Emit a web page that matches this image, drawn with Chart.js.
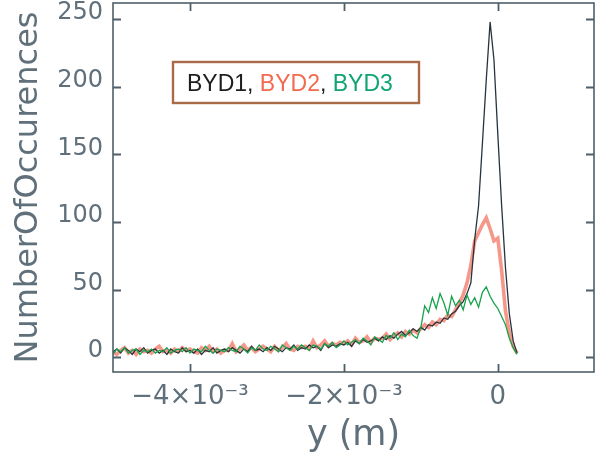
<!DOCTYPE html>
<html>
<head>
<meta charset="utf-8">
<script src="https://cdn.jsdelivr.net/npm/chart.js@4.4.1/dist/chart.umd.min.js"></script>
<style>
  html, body { margin: 0; padding: 0; background: #ffffff; }
  #wrap { width: 603px; height: 459px; }
</style>
</head>
<body>
<div id="wrap"><canvas id="c" width="603" height="459"></canvas></div>
<script>
// ---- data (x in millimetres, converted to metres for the axis) ----
const yPositionMm = [
  -5.00,-4.95,-4.90,-4.85,-4.80,-4.75,-4.70,-4.65,-4.60,-4.55,
  -4.50,-4.45,-4.40,-4.35,-4.30,-4.25,-4.20,-4.15,-4.10,-4.05,
  -4.00,-3.95,-3.90,-3.85,-3.80,-3.75,-3.70,-3.65,-3.60,-3.55,
  -3.50,-3.45,-3.40,-3.35,-3.30,-3.25,-3.20,-3.15,-3.10,-3.05,
  -3.00,-2.95,-2.90,-2.85,-2.80,-2.75,-2.70,-2.65,-2.60,-2.55,
  -2.50,-2.45,-2.40,-2.35,-2.30,-2.25,-2.20,-2.15,-2.10,-2.05,
  -2.00,-1.95,-1.90,-1.85,-1.80,-1.75,-1.70,-1.65,-1.60,-1.55,
  -1.50,-1.45,-1.40,-1.35,-1.30,-1.25,-1.20,-1.15,-1.10,-1.05,
  -1.00,-0.95,-0.90,-0.85,-0.80,-0.75,-0.70,-0.65,-0.60,-0.55,
  -0.50,-0.45,-0.40,-0.35,-0.30,-0.25,-0.20,-0.15,-0.10,-0.05,
   0.00, 0.05, 0.10, 0.15, 0.20, 0.25
];
const byd1 = [
  4,6,3,7,5,2,6,4,7,3,
  5,6,3,5,2,6,4,3,7,4,
  5,3,6,2,5,4,7,3,5,6,
  4,7,5,3,6,4,8,5,6,4,
  7,5,8,6,4,7,6,9,5,7,
  6,9,7,8,5,10,7,9,8,10,
  9,11,8,12,10,13,11,12,14,12,
  15,13,16,14,17,19,16,18,21,19,
  22,20,24,23,26,25,29,28,32,34,
  38,41,47,55,87,112,158,205,248,220,
  165,112,66,32,12,3
];
const byd2 = [
  4,2,5,7,3,5,2,6,4,5,
  3,6,8,4,5,3,6,4,7,5,
  6,4,3,7,5,8,4,6,3,5,
  5,10,4,6,9,5,7,4,6,8,
  6,4,8,5,7,10,6,5,8,7,
  8,6,12,7,9,12,8,10,9,11,
  10,12,9,14,11,12,15,11,14,13,
  14,17,13,16,18,15,19,17,20,18,
  21,24,22,26,24,28,27,31,30,35,
  40,46,55,68,86,92,98,103,95,86,
  88,64,34,18,8,3
];
const byd3 = [
  2,6,4,7,3,5,6,2,5,4,
  6,3,5,4,7,3,5,6,4,7,
  3,6,5,4,8,5,3,6,5,4,
  7,5,4,8,6,3,7,5,9,6,
  5,8,6,4,9,7,5,8,6,9,
  7,5,9,8,6,10,8,11,7,9,
  12,9,11,13,10,14,12,9,15,13,
  11,16,14,18,13,17,15,20,16,14,
  22,38,33,44,36,47,40,31,45,38,
  42,35,46,39,44,37,48,52,45,40,
  36,30,24,14,7,2
];
const seriesNames = ['BYD1', 'BYD2', 'BYD3'];
const xTickValues = [-0.004, -0.002, 0];
const xTickLabels = ['\u22124\u00d710\u207b\u00b3', '\u22122\u00d710\u207b\u00b3', '0'];
const yTickValues = [0, 50, 100, 150, 200, 250];
const yTickLabels = ['0', '50', '100', '150', '200', '250'];

// ---- styling ----
const AXIS = '#4f5f6a';
const TEXT = '#60707b';
const lineColors = ['#27333d', 'rgba(242,112,92,0.72)', '#18a24c'];
const legendColors = ['#1e1e1e', '#f26a50', '#10a474'];
const lineWidths = [1.3, 3.6, 1.3];
const drawOrder = [2, 3, 1];

function pts(arr) { return yPositionMm.map((x, i) => ({ x: x * 1e-3, y: arr[i] })); }
const series = [byd1, byd2, byd3];

const datasets = series.map((arr, i) => ({
  label: seriesNames[i],
  data: pts(arr),
  borderColor: lineColors[i],
  legendColor: legendColors[i],
  borderWidth: lineWidths[i],
  pointRadius: 0,
  tension: 0,
  fill: false,
  order: drawOrder[i]
}));

const framePlugin = {
  id: 'frame',
  afterDraw(chart) {
    const { ctx, chartArea: a, scales } = chart;
    const x = scales.x, y = scales.y;
    ctx.save();
    ctx.strokeStyle = AXIS;
    ctx.lineWidth = 1.6;
    ctx.strokeRect(a.left, a.top, a.right - a.left, a.bottom - a.top);
    const L = 8;
    ctx.beginPath();
    x.ticks.forEach(t => {
      const px = Math.round(x.getPixelForValue(t.value)) + 0.5;
      ctx.moveTo(px, a.bottom); ctx.lineTo(px, a.bottom - L);
      ctx.moveTo(px, a.top); ctx.lineTo(px, a.top + L);
    });
    y.ticks.forEach(t => {
      const py = Math.round(y.getPixelForValue(t.value)) + 0.5;
      ctx.moveTo(a.left, py); ctx.lineTo(a.left + L, py);
      ctx.moveTo(a.right, py); ctx.lineTo(a.right - L, py);
    });
    ctx.lineWidth = 1.8;
    ctx.stroke();

    // legend box
    const bx = a.left + 60, by = a.top + 59, bw = 246, bh = 41;
    ctx.fillStyle = '#ffffff';
    ctx.fillRect(bx, by, bw, bh);
    ctx.strokeStyle = '#a86a48';
    ctx.lineWidth = 2.4;
    ctx.strokeRect(bx, by, bw, bh);
    ctx.font = '23px "Liberation Sans", Arial, sans-serif';
    ctx.textBaseline = 'alphabetic';
    ctx.textAlign = 'left';
    let tx = bx + 14;
    const ty = by + 29;
    chart.data.datasets.forEach((ds, i) => {
      ctx.fillStyle = ds.legendColor;
      ctx.fillText(ds.label, tx, ty);
      tx += ctx.measureText(ds.label).width;
      if (i < chart.data.datasets.length - 1) {
        ctx.fillStyle = '#1e1e1e';
        ctx.fillText(', ', tx, ty);
        tx += ctx.measureText(', ').width;
      }
    });
    ctx.restore();
  }
};

new Chart(document.getElementById('c'), {
  type: 'line',
  data: { datasets },
  plugins: [framePlugin],
  options: {
    responsive: false,
    animation: false,
    events: [],
    layout: { autoPadding: false, padding: { top: 3, right: 9, left: 0, bottom: 0 } },
    plugins: { legend: { display: false }, tooltip: { enabled: false } },
    scales: {
      x: {
        type: 'linear',
        min: -0.005,
        max: 0.00125,
        grid: { display: false, drawTicks: false },
        border: { display: false },
        afterFit(s) { s.height = 87; s.paddingLeft = 0; s.paddingRight = 0; },
        afterBuildTicks(s) { s.ticks = xTickValues.map(v => ({ value: v })); },
        ticks: {
          padding: 10,
          color: TEXT,
          maxRotation: 0,
          autoSkip: false,
          font: { family: '"DejaVu Sans", sans-serif', size: 26 },
          callback: (v) => { const i = xTickValues.indexOf(v); return i >= 0 ? xTickLabels[i] : ''; }
        },
        title: {
          display: true,
          text: 'y (m)',
          color: TEXT,
          font: { family: '"DejaVu Sans", sans-serif', size: 35 },
          padding: { top: 0, bottom: 2 }
        }
      },
      y: {
        type: 'linear',
        min: -11,
        max: 262,
        grid: { display: false, drawTicks: false },
        border: { display: false },
        afterFit(s) { s.width = 113; s.paddingTop = 0; s.paddingBottom = 0; },
        afterBuildTicks(s) { s.ticks = yTickValues.map(v => ({ value: v })); },
        ticks: {
          padding: 10,
          color: TEXT,
          labelOffset: -6,
          autoSkip: false,
          font: { family: '"DejaVu Sans", sans-serif', size: 24 },
          callback: (v) => { const i = yTickValues.indexOf(v); return i >= 0 ? yTickLabels[i] : ''; }
        },
        title: {
          display: true,
          text: 'NumberOfOccurences',
          color: TEXT,
          font: { family: '"DejaVu Sans", sans-serif', size: 32 },
          padding: { top: 9, bottom: 0 }
        }
      }
    }
  }
});
</script>
</body>
</html>
